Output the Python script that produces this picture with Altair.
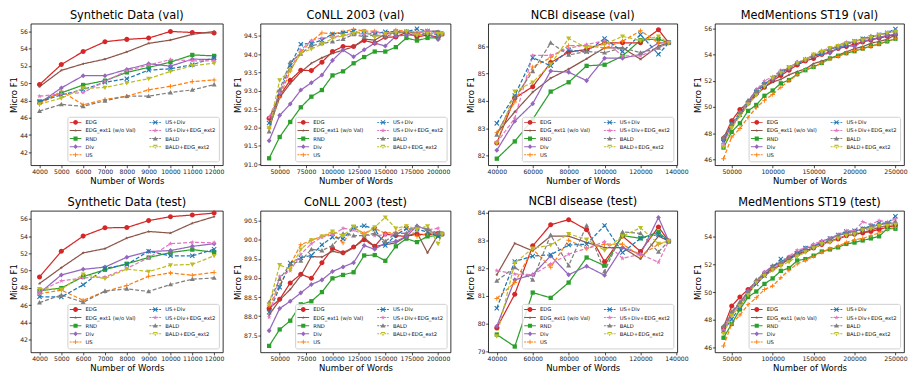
import altair as alt
import pandas as pd

SERIES = ["EDG", "EDG_ext1 (w/o Val)", "RND", "Div", "US",
          "US+Div", "US+Div+EDG_ext2", "BALD", "BALD+EDG_ext2"]
COLORS = ["#d62728", "#8c564b", "#2ca02c", "#9467bd", "#ff7f0e",
          "#1f77b4", "#e377c2", "#7f7f7f", "#bcbd22"]

# marker paths (unit box -1..1)
CIRCLE = "M1,0A1,1 0 1,1 -1,0A1,1 0 1,1 1,0Z"
SQUARE = "M-0.85,-0.85H0.85V0.85H-0.85Z"
DIAMOND = "M0,-1L0.95,0L0,1L-0.95,0Z"
TRI_UP = "M0,-1L1,0.75L-1,0.75Z"
TRI_DOWN = "M0,1L1,-0.75L-1,-0.75Z"
STAR = "M0,-1L0.235,-0.324L0.951,-0.309L0.38,0.124L0.588,0.809L0,0.4L-0.588,0.809L-0.38,0.124L-0.951,-0.309L-0.235,-0.324Z"
SMALL_STAR = "M0,-0.7L0.165,-0.227L0.666,-0.216L0.266,0.087L0.412,0.566L0,0.28L-0.412,0.566L-0.266,0.087L-0.666,-0.216L-0.165,-0.227Z"
XMARK = "M-1,-0.7L-0.7,-1L0,-0.3L0.7,-1L1,-0.7L0.3,0L1,0.7L0.7,1L0,0.3L-0.7,1L-1,0.7L-0.3,0Z"
PLUS = "M-0.9,-0.18H-0.18V-0.9H0.18V-0.18H0.9V0.18H0.18V0.9H-0.18V0.18H-0.9Z"
MARKERS = [CIRCLE, SMALL_STAR, SQUARE, DIAMOND, PLUS, XMARK, STAR, TRI_UP, TRI_DOWN]
DASHED = [False, False, False, False, True, True, True, True, True]
SOLID_HANDLE = "M-2.4,-0.2H2.4V0.2H-2.4Z"
DASH_HANDLE = "M-2.4,-0.2H-1.6V0.2H-2.4ZM-1.25,-0.2H1.25V0.2H-1.25ZM1.6,-0.2H2.4V0.2H1.6Z"
DASHES = [[4, 2] if d else [1, 0] for d in DASHED]
LEGEND_SYMBOLS = [m + (DASH_HANDLE if d else SOLID_HANDLE) for m, d in zip(MARKERS, DASHED)]

# the line scales use another domain order so that their hidden legends are
# not merged with the visible one
LINE_ORDER = [0, 5, 1, 6, 2, 7, 3, 8, 4]

# ---------- x positions ----------
X_SYN = [4000, 5000, 6000, 7000, 8000, 9000, 10000, 11000, 12000]
X_CONLL = [40000, 50000, 60000, 70000, 80000, 90000, 100000, 110000, 120000, 130000,
           140000, 150000, 160000, 170000, 180000, 190000, 200000, 203621]
X_NCBI = [40000, 50000, 60000, 70000, 80000, 90000, 100000, 110000, 120000, 130000, 135700]
X_MED = [40000, 50000, 60000, 70000, 80000, 90000, 100000, 110000, 120000, 130000, 140000,
         150000, 160000, 170000, 180000, 190000, 200000, 210000, 220000, 230000, 240000, 250000]

# ---------- Synthetic Data (val) ----------
SV_EDG = [49.84, 52.17, 53.67, 54.81, 55.08, 55.23, 56.0, 55.88, 55.81]
SV_EXT1 = [49.6, 51.49, 52.25, 52.79, 53.63, 54.62, 55.0, 55.66, 56.0]
SV_RND = [47.89, 48.88, 49.8, 50.3, 51.26, 51.83, 52.44, 53.28, 53.17]
SV_DIV = [47.7, 49.46, 50.87, 50.87, 51.6, 52.25, 51.98, 52.79, 52.75]
SV_US = [47.55, 49.08, 47.5, 48.12, 48.5, 49.23, 49.65, 50.19, 50.38]
SV_USDIV = [47.85, 48.65, 49.27, 50.11, 50.53, 51.52, 51.68, 52.14, 52.98]
SV_USDIVEXT2 = [48.5, 48.77, 48.92, 50.22, 51.45, 52.1, 52.75, 52.6, 52.6]
SV_BALD = [46.78, 47.55, 47.32, 47.97, 48.5, 48.5, 48.92, 49.23, 49.84]
SV_BALDEXT2 = [47.58, 48.27, 49.42, 49.5, 50.03, 50.53, 51.37, 52.02, 52.33]

# ---------- Synthetic Data (test) ----------
ST_EDG = [49.27, 52.25, 54.01, 54.97, 55.0, 55.81, 56.27, 56.46, 56.69]
ST_EXT1 = [48.5, 50.34, 52.06, 52.56, 53.78, 54.55, 54.36, 55.5, 56.27]
ST_RND = [47.66, 47.97, 49.3, 50.1, 50.8, 51.52, 52.1, 52.44, 52.14]
ST_DIV = [47.39, 49.5, 50.15, 50.41, 51.56, 52.21, 52.33, 52.82, 53.13]
ST_US = [47.32, 47.74, 46.55, 47.58, 48.27, 49.34, 49.73, 49.46, 49.8]
ST_USDIV = [46.97, 46.93, 48.35, 50.26, 50.72, 52.25, 51.72, 51.72, 52.48]
ST_USDIVEXT2 = [47.58, 48.81, 49.15, 49.27, 50.26, 51.49, 53.13, 53.28, 53.25]
ST_BALD = [46.28, 47.16, 46.32, 47.62, 47.89, 47.58, 48.39, 49.0, 49.15]
ST_BALDEXT2 = [47.89, 47.81, 49.57, 49.08, 50.19, 49.88, 50.64, 50.72, 51.72]

# ---------- CoNLL 2003 (val) ----------
CV_EDG = [92.25, 92.86, 93.29, 93.56, 93.55, 93.78, 94.07, 94.21, 94.21, 94.37, 94.3, 94.46, 94.47, 94.59, 94.47, 94.52, 94.46, 94.55]
CV_EXT1 = [92.0, 92.82, 93.2, 93.51, 93.75, 93.9, 94.02, 94.11, 94.2, 94.41, 94.38, 94.55, 94.58, 94.59, 94.59, 94.62, 94.63, 94.55]
CV_RND = [91.16, 91.74, 92.15, 92.55, 92.84, 93.02, 93.42, 93.53, 93.75, 93.92, 94.07, 94.07, 94.19, 94.44, 94.37, 94.44, 94.44, 94.55]
CV_DIV = [91.64, 92.33, 92.64, 93.02, 93.22, 93.43, 93.83, 94.11, 93.93, 94.12, 94.3, 94.22, 94.49, 94.52, 94.52, 94.55, 94.4, 94.55]
CV_US = [91.98, 92.83, 93.54, 94.05, 94.35, 94.58, 94.55, 94.61, 94.68, 94.63, 94.63, 94.55, 94.66, 94.62, 94.59, 94.63, 94.55, 94.55]
CV_USDIV = [92.12, 92.93, 93.69, 94.27, 94.29, 94.38, 94.55, 94.58, 94.62, 94.55, 94.55, 94.61, 94.61, 94.61, 94.69, 94.63, 94.58, 94.55]
CV_USDIVEXT2 = [92.28, 92.94, 93.6, 94.11, 94.37, 94.44, 94.46, 94.52, 94.56, 94.55, 94.61, 94.55, 94.63, 94.61, 94.56, 94.65, 94.56, 94.55]
CV_BALD = [91.89, 93.03, 93.78, 94.01, 94.23, 94.29, 94.34, 94.41, 94.54, 94.47, 94.53, 94.48, 94.57, 94.62, 94.55, 94.57, 94.52, 94.55]
CV_BALDEXT2 = [91.98, 93.29, 93.56, 94.02, 94.14, 94.27, 94.43, 94.5, 94.56, 94.63, 94.46, 94.56, 94.59, 94.62, 94.52, 94.56, 94.56, 94.55]

# ---------- CoNLL 2003 (test) ----------
CT_EDG = [88.2, 88.44, 88.87, 89.1, 88.99, 89.4, 89.77, 89.66, 89.81, 90.0, 89.83, 90.15, 90.11, 90.09, 90.15, 90.13, 90.17, 90.15]
CT_EXT1 = [88.03, 88.42, 88.7, 89.06, 89.56, 89.55, 89.7, 89.64, 89.79, 90.05, 89.83, 89.87, 89.92, 90.09, 90.19, 89.66, 90.13, 90.15]
CT_RND = [87.22, 87.65, 87.88, 88.31, 88.39, 88.63, 88.99, 89.08, 89.15, 89.59, 89.6, 89.45, 89.83, 90.03, 89.94, 90.09, 90.11, 90.15]
CT_DIV = [87.62, 88.2, 88.39, 88.61, 88.83, 88.95, 89.17, 89.29, 89.4, 89.85, 89.75, 89.92, 89.96, 90.09, 90.36, 90.26, 90.13, 90.15]
CT_US = [88.27, 88.8, 89.35, 89.87, 89.99, 90.09, 90.17, 89.92, 90.32, 90.17, 90.3, 90.17, 90.2, 90.35, 90.09, 90.17, 90.17, 90.15]
CT_USDIV = [88.1, 88.76, 89.39, 89.53, 89.59, 89.87, 90.07, 90.03, 90.32, 90.37, 90.28, 89.85, 90.13, 90.29, 90.28, 90.2, 90.09, 90.15]
CT_USDIVEXT2 = [87.97, 89.04, 89.19, 89.62, 89.9, 90.07, 90.13, 90.3, 90.26, 90.13, 90.11, 90.13, 90.17, 90.17, 90.35, 90.26, 90.3, 90.15]
CT_BALD = [88.36, 88.97, 89.36, 89.45, 89.75, 89.72, 89.85, 90.16, 90.11, 90.11, 90.17, 89.96, 90.17, 90.17, 90.36, 90.28, 90.17, 90.15]
CT_BALDEXT2 = [88.31, 89.34, 89.23, 89.75, 89.99, 90.09, 90.22, 90.11, 90.35, 90.13, 90.33, 90.59, 90.3, 90.36, 90.28, 90.36, 89.9, 90.15]

# ---------- NCBI disease (val) ----------
NV_EDG = [82.46, 84.1, 84.52, 85.4, 85.78, 85.88, 86.12, 86.12, 86.12, 86.6, 86.12]
NV_EXT1 = [82.82, 83.6, 84.32, 84.83, 85.16, 85.54, 85.94, 85.94, 85.52, 86.0, 86.12]
NV_RND = [81.89, 82.52, 83.33, 84.34, 84.68, 85.28, 85.32, 85.64, 86.22, 86.26, 86.12]
NV_DIV = [82.2, 83.26, 83.9, 85.09, 85.05, 84.74, 85.56, 85.56, 85.7, 86.12, 86.12]
NV_US = [82.84, 83.96, 85.24, 85.58, 86.02, 86.02, 85.93, 86.18, 86.56, 86.12, 86.12]
NV_USDIV = [83.18, 84.2, 85.58, 85.28, 85.86, 85.8, 86.28, 85.8, 86.42, 85.7, 86.12]
NV_USDIVEXT2 = [82.48, 83.36, 85.66, 85.66, 85.92, 86.06, 86.2, 85.64, 85.64, 85.94, 86.12]
NV_BALD = [82.76, 84.11, 85.08, 86.12, 85.68, 85.8, 85.76, 85.94, 85.76, 85.94, 86.12]
NV_BALDEXT2 = [82.46, 84.35, 84.68, 85.34, 86.28, 85.94, 86.06, 86.36, 86.2, 86.36, 86.12]

# ---------- NCBI disease (test) ----------
NT_EDG = [79.85, 81.06, 82.8, 83.56, 83.74, 83.38, 82.23, 83.15, 82.6, 83.48, 82.97]
NT_EXT1 = [81.76, 82.89, 82.62, 83.15, 83.15, 82.92, 82.74, 82.74, 82.33, 83.15, 82.97]
NT_RND = [79.61, 79.18, 81.12, 80.93, 81.48, 82.38, 82.09, 83.17, 83.07, 83.29, 82.97]
NT_DIV = [79.91, 81.58, 81.76, 82.44, 81.76, 82.07, 81.74, 82.74, 82.5, 83.82, 82.97]
NT_US = [80.91, 81.48, 82.68, 82.03, 83.0, 82.71, 82.86, 82.86, 82.44, 82.86, 82.97]
NT_USDIV = [80.56, 82.24, 82.43, 82.48, 82.83, 82.86, 83.53, 82.56, 83.07, 83.21, 82.97]
NT_USDIVEXT2 = [81.91, 81.79, 81.76, 82.15, 82.5, 82.71, 82.95, 82.35, 82.5, 82.21, 82.97]
NT_BALD = [81.54, 82.03, 81.58, 83.19, 82.09, 83.53, 81.88, 83.3, 83.25, 82.58, 82.97]
NT_BALDEXT2 = [79.55, 82.18, 82.71, 82.83, 83.23, 83.03, 82.64, 83.15, 83.45, 82.88, 82.97]

# ---------- MedMentions ST19 (val) ----------
MV_EDG = [47.6, 48.95, 49.8, 50.3, 51.0, 51.5, 52.0, 52.4, 52.8, 53.2, 53.5, 53.7, 54.0, 54.2, 54.45, 54.6, 54.8, 54.95, 55.1, 55.25, 55.4, 55.5]
MV_EXT1 = [47.7, 48.6, 49.3, 50.2, 50.9, 51.5, 51.9, 52.1, 52.45, 52.7, 52.9, 53.3, 53.5, 53.7, 53.95, 54.2, 54.45, 54.6, 54.85, 55.0, 55.15, 55.5]
MV_RND = [46.9, 48.1, 48.75, 49.7, 50.15, 50.85, 51.25, 51.8, 52.05, 52.5, 52.8, 53.05, 53.35, 53.7, 53.9, 54.1, 54.25, 54.45, 54.65, 54.8, 55.0, 55.2]
MV_DIV = [47.45, 48.5, 49.5, 50.4, 51.3, 51.8, 52.1, 52.55, 52.9, 53.4, 53.55, 53.95, 54.0, 54.1, 54.5, 54.7, 54.6, 55.0, 55.15, 55.3, 55.45, 55.55]
MV_US = [46.05, 47.7, 48.35, 49.2, 49.95, 50.5, 50.95, 51.5, 52.0, 52.45, 52.85, 53.05, 53.35, 53.65, 53.85, 54.1, 54.3, 54.45, 54.6, 54.8, 55.0, 55.2]
MV_USDIV = [47.3, 48.7, 49.4, 50.3, 51.1, 51.7, 52.2, 52.6, 53.0, 53.3, 53.6, 53.85, 54.1, 54.4, 54.6, 54.75, 55.0, 55.2, 55.3, 55.5, 55.65, 55.95]
MV_USDIVEXT2 = [47.2, 48.5, 49.6, 50.3, 51.3, 52.0, 52.3, 52.8, 53.0, 53.4, 53.6, 54.0, 54.3, 54.5, 54.7, 54.95, 55.0, 55.15, 55.35, 55.5, 55.65, 55.8]
MV_BALD = [47.7, 48.7, 49.6, 50.5, 51.2, 51.75, 52.2, 52.7, 53.0, 53.35, 53.65, 53.9, 54.2, 54.4, 54.6, 54.85, 55.0, 55.2, 55.4, 55.5, 55.65, 55.8]
MV_BALDEXT2 = [46.95, 48.4, 49.3, 50.2, 50.9, 51.55, 52.2, 52.6, 53.0, 53.35, 53.6, 54.0, 54.2, 54.5, 54.65, 54.85, 55.0, 55.1, 55.3, 55.5, 55.65, 55.75]

# ---------- MedMentions ST19 (test) ----------
MT_EDG = [47.45, 49.0, 49.65, 50.2, 50.75, 51.3, 51.7, 52.0, 52.5, 52.75, 53.0, 53.2, 53.45, 53.7, 53.85, 54.1, 54.2, 54.3, 54.4, 54.55, 54.7, 54.85]
MT_EXT1 = [47.3, 48.5, 49.2, 50.0, 50.6, 51.2, 51.6, 52.0, 52.4, 52.7, 52.9, 53.2, 53.5, 53.7, 53.9, 54.1, 54.2, 54.3, 54.5, 54.7, 54.8, 54.9]
MT_RND = [46.7, 47.7, 48.75, 49.65, 50.05, 50.6, 51.0, 51.55, 51.75, 52.3, 52.4, 52.65, 52.95, 53.1, 53.25, 53.5, 53.6, 53.75, 53.9, 54.05, 54.6, 54.6]
MT_DIV = [47.2, 48.5, 49.2, 50.1, 50.8, 51.45, 51.9, 52.1, 52.5, 52.9, 53.2, 53.3, 53.7, 53.9, 54.1, 54.3, 54.4, 54.6, 54.7, 54.9, 55.0, 55.0]
MT_US = [46.1, 47.7, 48.35, 49.1, 49.6, 50.2, 50.45, 51.05, 51.6, 52.05, 52.3, 52.6, 52.9, 53.15, 53.35, 53.6, 53.8, 53.9, 54.1, 54.3, 54.55, 54.7]
MT_USDIV = [47.2, 48.05, 48.9, 49.9, 50.6, 51.2, 51.8, 52.4, 52.4, 52.8, 53.2, 53.3, 53.6, 53.9, 54.15, 54.4, 54.45, 54.6, 54.8, 55.0, 55.0, 55.5]
MT_USDIVEXT2 = [47.3, 48.4, 49.0, 50.0, 50.8, 51.45, 51.75, 52.05, 52.6, 53.05, 53.2, 53.5, 53.7, 53.9, 54.2, 54.45, 54.45, 55.1, 54.9, 55.2, 55.1, 55.3]
MT_BALD = [47.55, 48.6, 49.3, 50.0, 50.9, 51.3, 51.9, 52.2, 52.5, 52.8, 53.1, 53.3, 53.5, 53.8, 54.1, 54.3, 54.3, 54.6, 54.8, 54.9, 55.0, 55.1]
MT_BALDEXT2 = [47.0, 48.3, 49.0, 49.8, 50.7, 51.2, 51.6, 51.9, 52.2, 52.6, 52.9, 53.2, 53.5, 53.6, 53.9, 54.1, 54.2, 54.5, 54.6, 54.8, 54.8, 54.9]

# ---------- axis settings ----------
SYN_XTICKS = [4000, 5000, 6000, 7000, 8000, 9000, 10000, 11000, 12000]
CONLL_XTICKS = [50000, 75000, 100000, 125000, 150000, 175000, 200000]
NCBI_XTICKS = [40000, 60000, 80000, 100000, 120000, 140000]
MED_XTICKS = [50000, 100000, 150000, 200000, 250000]

PH = 143
MSIZE = 26


def panel(title, width, xs, series_vals, xdom, xticks, ydom, yticks, yfmt):
    rows = []
    for name, vals in zip(SERIES, series_vals):
        for x, y in zip(xs, vals):
            rows.append({"x": x, "y": y, "series": name})
    df = pd.DataFrame(rows)
    xenc = alt.X("x:Q", scale=alt.Scale(domain=xdom, nice=False, zero=False),
                 axis=alt.Axis(values=xticks, format="d", title="Number of Words",
                               labelOverlap=False, labelFlush=False))
    yenc = alt.Y("y:Q", scale=alt.Scale(domain=ydom, nice=False, zero=False),
                 axis=alt.Axis(values=yticks, format=yfmt, title="Micro F1",
                               labelOverlap=False, labelFlush=False))
    ldom = [SERIES[i] for i in LINE_ORDER]
    lines = alt.Chart(df).mark_line(strokeWidth=1.25).encode(
        x=xenc, y=yenc,
        stroke=alt.Stroke("series:N", scale=alt.Scale(domain=ldom, range=[COLORS[i] for i in LINE_ORDER]), legend=None),
        strokeDash=alt.StrokeDash("series:N", scale=alt.Scale(domain=ldom, range=[DASHES[i] for i in LINE_ORDER]), legend=None),
    )
    layers = [lines]
    for name, col, mk in zip(SERIES, COLORS, MARKERS):
        layers.append(
            alt.Chart(df).transform_filter(alt.datum.series == name).mark_point(
                filled=True, shape=mk, color=col, size=MSIZE, opacity=1, strokeWidth=0
            ).encode(x=xenc, y=yenc)
        )
    leg = alt.Legend(title=None, orient="bottom-right", columns=2, labelFontSize=5.3,
                     symbolSize=24, symbolOpacity=1, symbolStrokeWidth=0,
                     symbolOffset=2.6, labelOffset=7.4, rowPadding=2.2,
                     columnPadding=12.5, padding=3, offset=4,
                     fillColor="rgba(255,255,255,0.85)", strokeColor="#d0d0d0",
                     cornerRadius=2, labelColor="#111111")
    # legend only layer: no rows pass the filter, the explicit domains build the legend
    legend_layer = alt.Chart(df).transform_filter(alt.datum.x < 0).mark_point(
        filled=True, size=24, opacity=1
    ).encode(
        x=xenc, y=yenc,
        color=alt.Color("series:N", scale=alt.Scale(domain=SERIES, range=COLORS), legend=leg),
        shape=alt.Shape("series:N", scale=alt.Scale(domain=SERIES, range=LEGEND_SYMBOLS), legend=leg),
    )
    layers.append(legend_layer)
    return alt.layer(*layers).properties(title=title, width=width, height=PH)


panels = [
    panel("Synthetic Data (val)", 194, X_SYN,
          [SV_EDG, SV_EXT1, SV_RND, SV_DIV, SV_US, SV_USDIV, SV_USDIVEXT2, SV_BALD, SV_BALDEXT2],
          [3600, 12400], SYN_XTICKS, [40.5, 56.9], [42, 44, 46, 48, 50, 52, 54, 56], "d"),
    panel("CoNLL 2003 (val)", 192, X_CONLL,
          [CV_EDG, CV_EXT1, CV_RND, CV_DIV, CV_US, CV_USDIV, CV_USDIVEXT2, CV_BALD, CV_BALDEXT2],
          [31819, 211802], CONLL_XTICKS, [90.97, 94.83], [91.0, 91.5, 92.0, 92.5, 93.0, 93.5, 94.0, 94.5], ".1f"),
    panel("NCBI disease (val)", 191, X_NCBI,
          [NV_EDG, NV_EXT1, NV_RND, NV_DIV, NV_US, NV_USDIV, NV_USDIVEXT2, NV_BALD, NV_BALDEXT2],
          [35215, 140485], NCBI_XTICKS, [81.65, 86.82], [82, 83, 84, 85, 86], "d"),
    panel("MedMentions ST19 (val)", 191, X_MED,
          [MV_EDG, MV_EXT1, MV_RND, MV_DIV, MV_US, MV_USDIV, MV_USDIVEXT2, MV_BALD, MV_BALDEXT2],
          [29500, 260500], MED_XTICKS, [45.55, 56.35], [46, 48, 50, 52, 54, 56], "d"),
    panel("Synthetic Data (test)", 194, X_SYN,
          [ST_EDG, ST_EXT1, ST_RND, ST_DIV, ST_US, ST_USDIV, ST_USDIVEXT2, ST_BALD, ST_BALDEXT2],
          [3600, 12400], SYN_XTICKS, [40.5, 56.95], [42, 44, 46, 48, 50, 52, 54, 56], "d"),
    panel("CoNLL 2003 (test)", 192, X_CONLL,
          [CT_EDG, CT_EXT1, CT_RND, CT_DIV, CT_US, CT_USDIV, CT_USDIVEXT2, CT_BALD, CT_BALDEXT2],
          [31819, 211802], CONLL_XTICKS, [87.05, 90.76], [87.5, 88.0, 88.5, 89.0, 89.5, 90.0, 90.5], ".1f"),
    panel("NCBI disease (test)", 191, X_NCBI,
          [NT_EDG, NT_EXT1, NT_RND, NT_DIV, NT_US, NT_USDIV, NT_USDIVEXT2, NT_BALD, NT_BALDEXT2],
          [35215, 140485], NCBI_XTICKS, [78.97, 84.06], [79, 80, 81, 82, 83, 84], "d"),
    panel("MedMentions ST19 (test)", 191, X_MED,
          [MT_EDG, MT_EXT1, MT_RND, MT_DIV, MT_US, MT_USDIV, MT_USDIVEXT2, MT_BALD, MT_BALDEXT2],
          [29500, 260500], MED_XTICKS, [45.64, 55.9], [46, 48, 50, 52, 54], "d"),
]

chart = alt.concat(*panels, columns=4).properties(
    spacing={"row": 46, "column": 38},
    bounds="flush",
    align="each",
    padding=0,
).resolve_scale(
    color="independent", shape="independent", strokeDash="independent",
    stroke="independent", x="independent", y="independent",
).resolve_legend(
    color="independent", shape="independent", strokeDash="independent",
    stroke="independent",
).configure(
    font="DejaVu Sans",
    background="white",
).configure_view(
    stroke="black", strokeWidth=0.8,
).configure_axis(
    grid=False, domain=False, tickColor="black", tickSize=2.5, tickWidth=0.7,
    labelFontSize=6.2, labelColor="#222222", labelPadding=0.8,
    titleFontSize=8.6, titleFontWeight="normal", titleColor="black", titlePadding=1.5,
).configure_title(
    fontSize=11.5, fontWeight="normal", color="black", offset=2,
)

chart.save("out.html", embed_options={"renderer": "svg", "actions": False})
